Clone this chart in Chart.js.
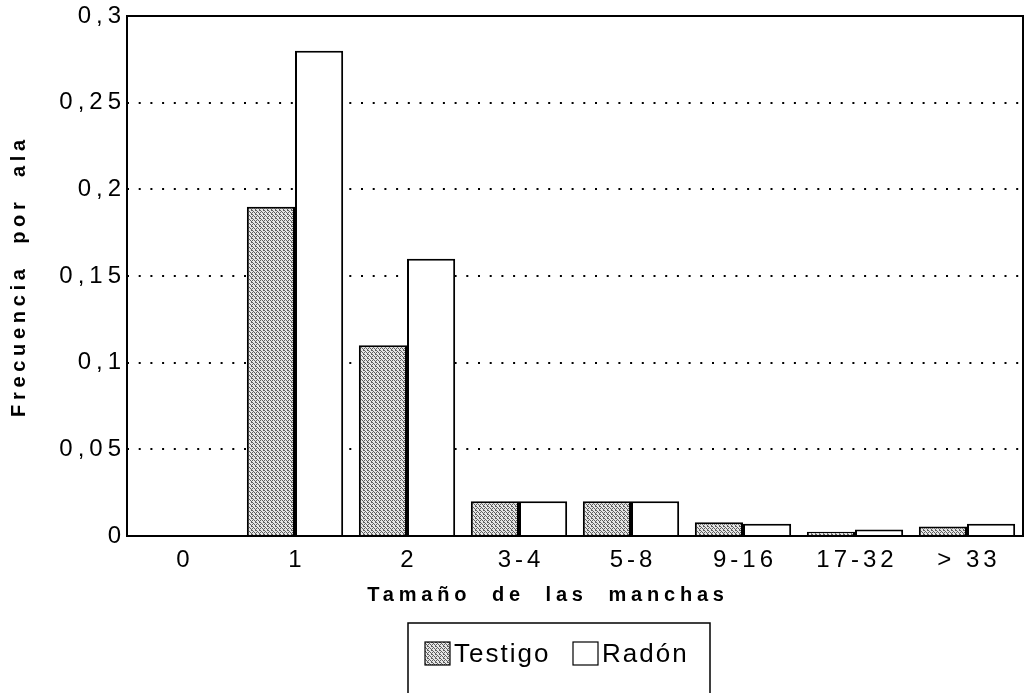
<!DOCTYPE html>
<html>
<head>
<meta charset="utf-8">
<script src="https://cdn.jsdelivr.net/npm/chart.js@4.4.0/dist/chart.umd.min.js"></script>
<style>
  html, body { margin: 0; padding: 0; background: #fff; }
  #wrap { width: 1026px; height: 693px; }
</style>
</head>
<body>
<div id="wrap"><canvas id="c" width="1026" height="693"></canvas></div>
<script>
const categories = ['0', '1', '2', '3-4', '5-8', '9-16', '17-32', '> 33'];
const testigo = [0, 0.19, 0.11, 0.02, 0.02, 0.008, 0.0025, 0.0055];
const radon = [0, 0.28, 0.16, 0.02, 0.02, 0.007, 0.0038, 0.007];
const seriesLabels = ['Testigo', 'Radón'];
const yTickLabels = ['0', '0,05', '0,1', '0,15', '0,2', '0,25', '0,3'];
const xTitle = 'Tamaño  de  las  manchas';
const yTitle = 'Frecuencia  por  ala';

// stipple pattern for the "Testigo" fill
function makePattern() {
  const p = document.createElement('canvas');
  p.width = 4; p.height = 4;
  const g = p.getContext('2d');
  g.fillStyle = '#e6e6e6';
  g.fillRect(0, 0, 4, 4);
  g.fillStyle = '#606060';
  [[0,0],[2,0],[1,1],[3,2],[0,2],[2,3],[1,3],[3,1]].forEach(function (d, i) {
    if (i % 3 !== 2) g.fillRect(d[0], d[1], 1, 1);
  });
  return g.createPattern(p, 'repeat');
}
const stipple = makePattern();

function withSpacing(scale, fnName, spacing, dx) {
  if (scale['_ls_' + fnName]) return;
  const orig = scale[fnName];
  scale[fnName] = function () {
    const ctx = this.ctx;
    const old = ctx.letterSpacing;
    ctx.save();
    ctx.letterSpacing = spacing;
    if (dx) ctx.translate(dx, 0);
    orig.apply(this, arguments);
    ctx.restore();
    ctx.letterSpacing = old;
  };
  scale['_ls_' + fnName] = true;
}

const framePlugin = {
  id: 'frame',
  afterDraw(chart) {
    const ctx = chart.ctx;
    const a = chart.chartArea;
    ctx.save();
    ctx.strokeStyle = '#000';
    ctx.lineWidth = 2;
    ctx.strokeRect(a.left, a.top, a.right - a.left, a.bottom - a.top);
    // boxed legend
    ctx.lineWidth = 1.5;
    ctx.strokeRect(408, 623, 302, 90);
    ctx.font = '26px "Liberation Sans", Arial, sans-serif';
    ctx.letterSpacing = '2px';
    ctx.textBaseline = 'alphabetic';
    ctx.fillStyle = '#000';
    const items = [
      { x: 425, label: chart.data.datasets[0].label, fill: chart.data.datasets[0].backgroundColor },
      { x: 573, label: chart.data.datasets[1].label, fill: chart.data.datasets[1].backgroundColor }
    ];
    items.forEach(function (it) {
      ctx.fillStyle = it.fill;
      ctx.fillRect(it.x, 642, 25, 23);
      ctx.strokeStyle = '#000';
      ctx.lineWidth = 1.2;
      ctx.strokeRect(it.x, 642, 25, 23);
      ctx.fillStyle = '#000';
      ctx.fillText(it.label, it.x + 29, 662);
    });
    ctx.restore();
  }
};

new Chart(document.getElementById('c'), {
  type: 'bar',
  data: {
    labels: categories,
    datasets: [
      { label: seriesLabels[0], data: testigo, backgroundColor: stipple, borderColor: '#000', borderWidth: 2 },
      { label: seriesLabels[1], data: radon, backgroundColor: '#ffffff', borderColor: '#000', borderWidth: 2 }
    ]
  },
  options: {
    responsive: false,
    animation: false,
    devicePixelRatio: 1,
    layout: { padding: { top: 16, right: 3, left: 0, bottom: 0 } },
    datasets: { bar: { categoryPercentage: 0.86, barPercentage: 1 } },
    plugins: { legend: { display: false }, tooltip: { enabled: false } },
    scales: {
      x: {
        grid: { display: false, drawTicks: false },
        border: { display: false },
        ticks: { color: '#000', padding: 10, font: { family: '"Liberation Sans", Arial, sans-serif', size: 24 } },
        title: {
          display: true, text: xTitle, color: '#000',
          font: { family: '"Liberation Sans", Arial, sans-serif', size: 20, weight: 'bold' },
          padding: { top: 0, bottom: 86 }
        },
        afterFit(scale) { scale.height = 157; },
        afterUpdate(scale) {
          withSpacing(scale, 'drawLabels', '4px', 2);
          withSpacing(scale, 'drawTitle', '4.8px', -27);
        }
      },
      y: {
        min: 0, max: 0.3,
        grid: {
          drawTicks: false, lineWidth: 2,
          color: function (c) { return (c.tick && (c.tick.value <= 0.0001 || c.tick.value >= 0.2999)) ? 'rgba(0,0,0,0)' : '#000'; }
        },
        border: { display: false, dash: [2, 9.7] },
        ticks: {
          stepSize: 0.05, color: '#000', padding: 1,
          font: { family: '"Liberation Sans", Arial, sans-serif', size: 24 },
          callback: function (v, i) { return yTickLabels[i]; }
        },
        title: {
          display: true, text: yTitle, color: '#000',
          font: { family: '"Liberation Sans", Arial, sans-serif', size: 20, weight: 'bold' },
          padding: { top: 7, bottom: 0 }
        },
        afterFit(scale) { scale.width = 127; },
        afterUpdate(scale) {
          withSpacing(scale, 'drawLabels', '5px', 0);
          withSpacing(scale, 'drawTitle', '4.7px', 0);
        }
      }
    }
  },
  plugins: [framePlugin]
});
</script>
</body>
</html>
